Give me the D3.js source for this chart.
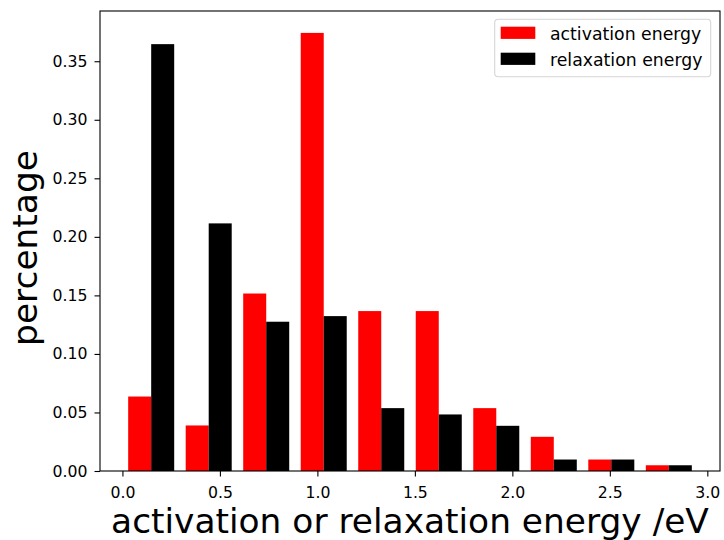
<!DOCTYPE html>
<html>
<head>
<meta charset="utf-8">
<script src="https://cdn.jsdelivr.net/npm/d3@7"></script>
<style>
  html, body { margin: 0; padding: 0; background: #fff; }
  svg text { font-family: "DejaVu Sans", sans-serif; fill: #000; }
</style>
</head>
<body>
<div id="chart"></div>
<script>
// histogram bin edges (eV)
var binEdges = [0.00, 0.295, 0.59, 0.885, 1.18, 1.475, 1.77, 2.065, 2.36, 2.655, 2.95];
// fraction of events per bin
var activation = [0.0636, 0.0389, 0.1516, 0.3742, 0.1366, 0.1366, 0.0537, 0.0292, 0.0098, 0.0049];
var relaxation = [0.3646, 0.2115, 0.1275, 0.1323, 0.0537, 0.0483, 0.0386, 0.0098, 0.0098, 0.0049];
var seriesNames = ["activation energy", "relaxation energy"];
var seriesColors = ["#ff0000", "#000000"];
var xTicks = [0.0, 0.5, 1.0, 1.5, 2.0, 2.5, 3.0];
var yTicks = [0.00, 0.05, 0.10, 0.15, 0.20, 0.25, 0.30, 0.35];

var width = 724, height = 540;
var margin = {top: 11, right: 4, bottom: 69, left: 100};

var svg = d3.select("#chart").append("svg")
    .attr("width", width)
    .attr("height", height);

// bars cover 80% of each bin, split between the two series
var bins = binEdges.slice(0, -1).map(function(e, i) {
    return {x0: e, x1: binEdges[i + 1], a: activation[i], r: relaxation[i]};
});
var xmin = bins[0].x0 + 0.1 * (bins[0].x1 - bins[0].x0);
var last = bins[bins.length - 1];
var xmax = last.x1 - 0.1 * (last.x1 - last.x0);
var xpad = 0.05 * (xmax - xmin);
var ymax = d3.max(activation.concat(relaxation)) * 1.05;

var x = d3.scaleLinear()
    .domain([xmin - xpad, xmax + xpad])
    .range([margin.left, width - margin.right]);

var y = d3.scaleLinear()
    .domain([0, ymax])
    .range([height - margin.bottom, margin.top]);

var barsGroup = svg.append("g");
[activation, relaxation].forEach(function(vals, s) {
    barsGroup.selectAll("rect.s" + s)
        .data(bins)
        .enter().append("rect")
        .attr("class", "s" + s)
        .attr("x", function(d) { var w = d.x1 - d.x0; return x(d.x0 + 0.1 * w + s * 0.4 * w); })
        .attr("width", function(d) { var w = d.x1 - d.x0; return x(d.x0 + 0.4 * w) - x(d.x0); })
        .attr("y", function(d, i) { return y(vals[i]); })
        .attr("height", function(d, i) { return y(0) - y(vals[i]); })
        .attr("fill", seriesColors[s]);
});

// axes
var xAxis = svg.append("g")
    .attr("transform", "translate(0," + (height - margin.bottom) + ")")
    .call(d3.axisBottom(x).tickValues(xTicks).tickFormat(d3.format(".1f"))
        .tickSize(5.5).tickSizeOuter(0).tickPadding(10));

var yAxis = svg.append("g")
    .attr("transform", "translate(" + margin.left + ",0)")
    .call(d3.axisLeft(y).tickValues(yTicks).tickFormat(d3.format(".2f"))
        .tickSize(5.5).tickSizeOuter(0).tickPadding(7));

svg.selectAll(".tick text")
    .style("font-size", "15.7px")
    .style("font-family", "DejaVu Sans");
svg.selectAll(".tick line").attr("stroke", "#000").attr("stroke-width", 1.1);
svg.selectAll(".domain").remove();

// frame
svg.append("rect")
    .attr("x", margin.left)
    .attr("y", margin.top)
    .attr("width", width - margin.left - margin.right)
    .attr("height", height - margin.top - margin.bottom)
    .attr("fill", "none")
    .attr("stroke", "#000")
    .attr("stroke-width", 1.1);

// axis labels
svg.append("text")
    .attr("x", (margin.left + width - margin.right) / 2)
    .attr("y", 533)
    .attr("text-anchor", "middle")
    .style("font-size", "34.4px")
    .text("activation or relaxation energy /eV");

svg.append("text")
    .attr("transform", "translate(37," + 248 + ") rotate(-90)")
    .attr("text-anchor", "middle")
    .style("font-size", "34.4px")
    .text("percentage");

// legend
var legend = svg.append("g");
legend.append("rect")
    .attr("x", 494.7).attr("y", 19.3)
    .attr("width", 216).attr("height", 57.4)
    .attr("rx", 3.5)
    .attr("fill", "#fff").attr("fill-opacity", 0.8)
    .attr("stroke", "#d5d5d5").attr("stroke-width", 1.1);

var items = legend.selectAll("g.item")
    .data(seriesNames)
    .enter().append("g")
    .attr("class", "item")
    .attr("transform", function(d, i) { return "translate(0," + (i * 26) + ")"; });

items.append("rect")
    .attr("x", 500.7).attr("y", 26.7)
    .attr("width", 34.6).attr("height", 12.2)
    .attr("fill", function(d, i) { return seriesColors[i]; });

items.append("text")
    .attr("x", 550)
    .attr("y", 39.8)
    .style("font-size", "17.3px")
    .text(function(d) { return d; });
</script>
</body>
</html>
